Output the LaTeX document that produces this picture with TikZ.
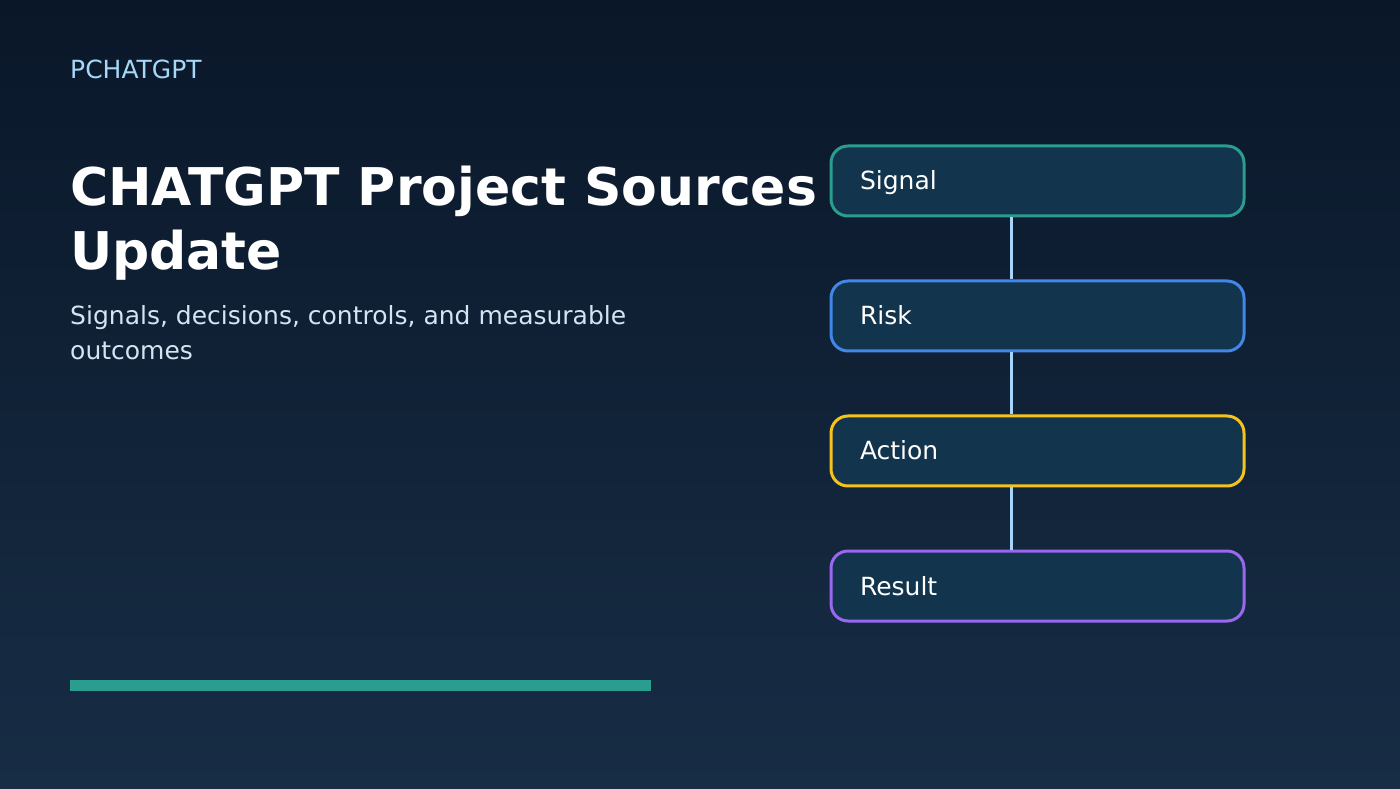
\documentclass[tikz,border=0pt]{standalone}
\usepackage{fontspec}
\setmainfont{DejaVu Sans}
\definecolor{bgtop}{HTML}{0A1729}
\definecolor{bgbot}{HTML}{172D45}
\definecolor{boxfill}{HTML}{12344D}
\definecolor{cteal}{HTML}{2A9D8F}
\definecolor{cblue}{HTML}{4286E8}
\definecolor{cyellow}{HTML}{F6C21C}
\definecolor{cpurple}{HTML}{9A68F0}
\definecolor{conn}{HTML}{A6D4FA}
\definecolor{txtw}{HTML}{FFFFFF}
\definecolor{subc}{HTML}{D4E4F2}
\definecolor{kicker}{HTML}{A5D8F8}
\begin{document}
\begin{tikzpicture}[x=1pt,y=1pt,
  stepbox/.style={draw=#1, line width=3pt, fill=boxfill, rounded corners=17pt,
    minimum height=70pt, text width=355pt, inner xsep=29pt, inner ysep=0pt,
    align=left, text height=18pt, text depth=0pt, text=txtw,
    font=\fontsize{25}{29}\selectfont},
  link/.style={conn, line width=3pt}]
\shade[top color=bgtop, bottom color=bgbot] (0,0) rectangle (1400,788);
\useasboundingbox (0,0) rectangle (1400,788);

\node[anchor=base west, inner sep=0pt, text=kicker, font=\fontsize{25}{29}\selectfont] (kick) at (70,709) {PCHATGPT};
\node[anchor=base west, inner sep=0pt, text=txtw, align=left, font=\bfseries\fontsize{52}{64}\selectfont] (title) at (70,518) {CHATGPT Project Sources\\Update};
\node[anchor=base west, inner sep=0pt, text=subc, align=left, font=\fontsize{25}{35}\selectfont] (sub) at (70,428) {Signals, decisions, controls, and measurable\\outcomes};

\node[stepbox=cteal] (s) at (1037.5,607) {Signal};
\node[stepbox=cblue] (r) at (1037.5,472) {Risk};
\node[stepbox=cyellow] (a) at (1037.5,337) {Action};
\node[stepbox=cpurple] (res) at (1037.5,202) {Result};

\draw[link] ([xshift=-26.5pt]s.south) -- ([xshift=-26.5pt]r.north);
\draw[link] ([xshift=-26.5pt]r.south) -- ([xshift=-26.5pt]a.north);
\draw[link] ([xshift=-26.5pt]a.south) -- ([xshift=-26.5pt]res.north);

\fill[cteal] (70,97) rectangle (651,108);
\end{tikzpicture}
\end{document}
